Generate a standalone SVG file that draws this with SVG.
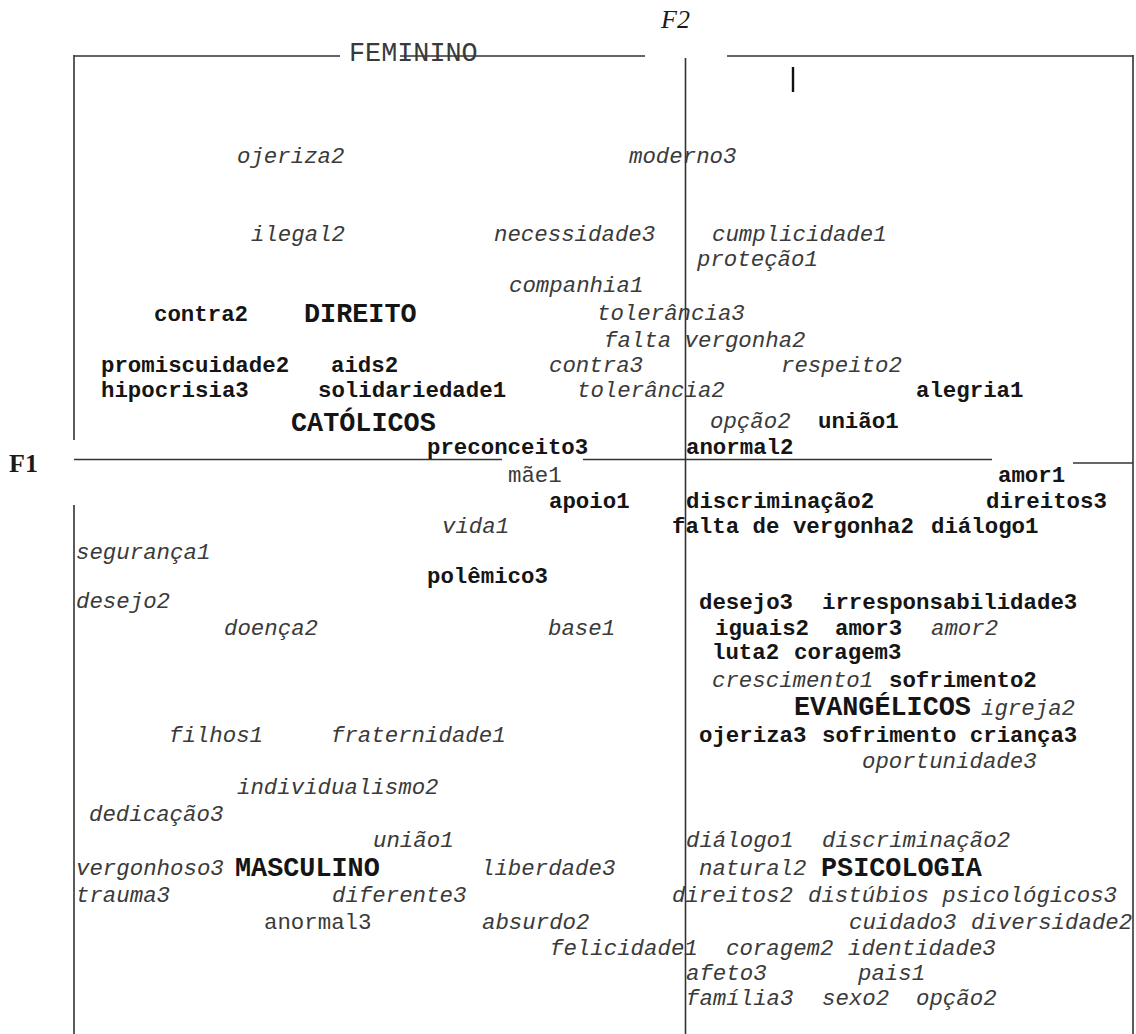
<svg xmlns="http://www.w3.org/2000/svg" width="1136" height="1034" viewBox="0 0 1136 1034">
<style>
text{font-family:"Liberation Mono","Courier New",monospace;fill:#3a3a3a;font-size:22.4px}
.i{font-style:italic}
.b{font-weight:bold;fill:#151515}
.B{font-weight:bold;font-size:26.8px;fill:#151515}
.R{font-size:26.8px}
.ax{font-family:"Liberation Serif","Times New Roman",serif;font-size:26px;fill:#1a1a1a}
line{stroke:#333;stroke-width:1.6}
</style>
<rect width="1136" height="1034" fill="#fff"/>
<g id="axes">
<line x1="74" y1="56" x2="340" y2="56"/>
<line x1="400" y1="56" x2="645" y2="56"/>
<line x1="727" y1="56" x2="1133" y2="56"/>
<line x1="74" y1="55" x2="74" y2="440"/>
<line x1="74" y1="505" x2="74" y2="1034"/>
<line x1="1133" y1="55" x2="1133" y2="1034"/>
<line x1="685.5" y1="58" x2="685.5" y2="1034"/>
<line x1="74" y1="459.5" x2="502" y2="459.5"/>
<line x1="583" y1="459.5" x2="992" y2="459.5"/>
<line x1="1073" y1="463" x2="1133" y2="463"/>
<line x1="793" y1="67" x2="793" y2="92" style="stroke:#111;stroke-width:2.4"/>
</g>
<g id="F2"><text class="ax" x="661" y="28" font-style="italic">F2</text></g>
<g id="F1"><text class="ax" x="9" y="472" font-weight="bold">F1</text></g>
<g id="FEMININO"><text class="R" x="349" y="61">FEMININO</text></g>
<g id="n1"><text class="i" x="237" y="163">ojeriza2</text></g>
<g id="n2"><text class="i" x="629" y="163">moderno3</text></g>
<g id="n3"><text class="i" x="251" y="241">ilegal2</text></g>
<g id="n4"><text class="i" x="494" y="241">necessidade3</text></g>
<g id="n5"><text class="i" x="712" y="241">cumplicidade1</text></g>
<g id="n6"><text class="i" x="697" y="266">proteção1</text></g>
<g id="n7"><text class="i" x="509" y="292">companhia1</text></g>
<g id="n8"><text class="b" x="154" y="321">contra2</text></g>
<g id="DIREITO"><text class="B" x="304" y="322">DIREITO</text></g>
<g id="n9"><text class="i" x="597" y="320">tolerância3</text></g>
<g id="n10"><text class="i" x="604" y="347">falta vergonha2</text></g>
<g id="n11"><text class="b" x="101" y="372">promiscuidade2</text></g>
<g id="n12"><text class="b" x="331" y="372">aids2</text></g>
<g id="n13"><text class="i" x="549" y="372">contra3</text></g>
<g id="n14"><text class="i" x="781" y="372">respeito2</text></g>
<g id="n15"><text class="b" x="101" y="397">hipocrisia3</text></g>
<g id="n16"><text class="b" x="318" y="397">solidariedade1</text></g>
<g id="n17"><text class="i" x="577" y="397">tolerância2</text></g>
<g id="n18"><text class="b" x="916" y="397">alegria1</text></g>
<g id="CATOLICOS"><text class="B" x="291" y="431">CATÓLICOS</text></g>
<g id="n19"><text class="i" x="710" y="428">opção2</text></g>
<g id="n20"><text class="b" x="818" y="428">união1</text></g>
<g id="n21"><text class="b" x="427" y="454">preconceito3</text></g>
<g id="n22"><text class="b" x="686" y="454">anormal2</text></g>
<g id="n23"><text x="508" y="482">mãe1</text></g>
<g id="n24"><text class="b" x="998" y="482">amor1</text></g>
<g id="n25"><text class="b" x="549" y="508">apoio1</text></g>
<g id="n26"><text class="b" x="686" y="508">discriminação2</text></g>
<g id="n27"><text class="b" x="986" y="508">direitos3</text></g>
<g id="n28"><text class="i" x="442" y="533">vida1</text></g>
<g id="n29"><text class="b" x="672" y="533">falta de vergonha2</text></g>
<g id="n30"><text class="b" x="931" y="533">diálogo1</text></g>
<g id="n31"><text class="i" x="76" y="559">segurança1</text></g>
<g id="n32"><text class="b" x="427" y="583">polêmico3</text></g>
<g id="n33"><text class="i" x="76" y="608">desejo2</text></g>
<g id="n34"><text class="b" x="699" y="609">desejo3</text></g>
<g id="n35"><text class="b" x="822" y="609">irresponsabilidade3</text></g>
<g id="n36"><text class="i" x="224" y="635">doença2</text></g>
<g id="n37"><text class="i" x="548" y="635">base1</text></g>
<g id="n38"><text class="b" x="715" y="635">iguais2</text></g>
<g id="n39"><text class="b" x="835" y="635">amor3</text></g>
<g id="n40"><text class="i" x="931" y="635">amor2</text></g>
<g id="n41"><text class="b" x="712" y="659">luta2</text></g>
<g id="n42"><text class="b" x="794" y="659">coragem3</text></g>
<g id="n43"><text class="i" x="712" y="687">crescimento1</text></g>
<g id="n44"><text class="b" x="889" y="687">sofrimento2</text></g>
<g id="EVANGELICOS"><text class="B" x="794" y="715">EVANGÉLICOS</text></g>
<g id="n45"><text class="i" x="981" y="715">igreja2</text></g>
<g id="n46"><text class="i" x="169" y="742">filhos1</text></g>
<g id="n47"><text class="i" x="331" y="742">fraternidade1</text></g>
<g id="n48"><text class="b" x="699" y="742">ojeriza3</text></g>
<g id="n49"><text class="b" x="822" y="742">sofrimento criança3</text></g>
<g id="n50"><text class="i" x="862" y="768">oportunidade3</text></g>
<g id="n51"><text class="i" x="237" y="794">individualismo2</text></g>
<g id="n52"><text class="i" x="89" y="821">dedicação3</text></g>
<g id="n53"><text class="i" x="373" y="847">união1</text></g>
<g id="n54"><text class="i" x="686" y="847">diálogo1</text></g>
<g id="n55"><text class="i" x="822" y="847">discriminação2</text></g>
<g id="n56"><text class="i" x="76" y="875">vergonhoso3</text></g>
<g id="MASCULINO"><text class="B" x="235" y="876">MASCULINO</text></g>
<g id="n57"><text class="i" x="481" y="875">liberdade3</text></g>
<g id="n58"><text class="i" x="699" y="875">natural2</text></g>
<g id="PSICOLOGIA"><text class="B" x="821" y="876">PSICOLOGIA</text></g>
<g id="n59"><text class="i" x="76" y="902">trauma3</text></g>
<g id="n60"><text class="i" x="332" y="902">diferente3</text></g>
<g id="n61"><text class="i" x="672" y="902">direitos2</text></g>
<g id="n62"><text class="i" x="808" y="902">distúbios psicológicos3</text></g>
<g id="n63"><text x="264" y="929">anormal3</text></g>
<g id="n64"><text class="i" x="482" y="929">absurdo2</text></g>
<g id="n65"><text class="i" x="849" y="929">cuidado3</text></g>
<g id="n66"><text class="i" x="971" y="929">diversidade2</text></g>
<g id="n67"><text class="i" x="550" y="955">felicidade1</text></g>
<g id="n68"><text class="i" x="726" y="955">coragem2</text></g>
<g id="n69"><text class="i" x="848" y="955">identidade3</text></g>
<g id="n70"><text class="i" x="686" y="980">afeto3</text></g>
<g id="n71"><text class="i" x="858" y="980">pais1</text></g>
<g id="n72"><text class="i" x="686" y="1005">família3</text></g>
<g id="n73"><text class="i" x="822" y="1005">sexo2</text></g>
<g id="n74"><text class="i" x="916" y="1005">opção2</text></g>
</svg>
